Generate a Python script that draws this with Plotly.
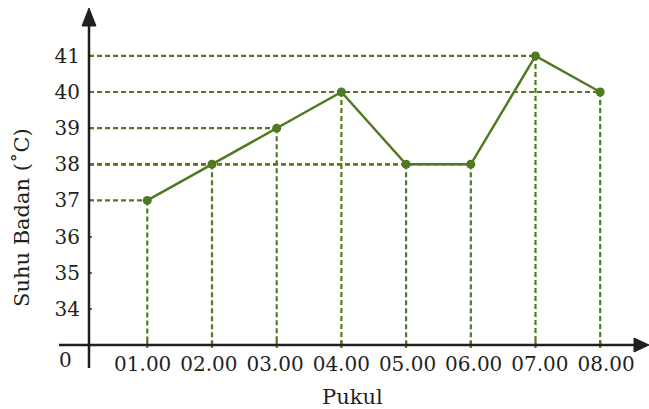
import plotly.graph_objects as go

hours = [1, 2, 3, 4, 5, 6, 7, 8]
hour_labels = ["01.00", "02.00", "03.00", "04.00", "05.00", "06.00", "07.00", "08.00"]
temps = [37, 38, 39, 40, 38, 38, 41, 40]
y_ticks = [34, 35, 36, 37, 38, 39, 40, 41]

GREEN = "#4f7a1f"
DARK = "#231f20"
FONT = "DejaVu Serif"

W, H = 649, 409
L, R, T, B = 89, 0, 0, 64
pw, ph = W - L - R, H - T - B
XPX = 64.7   # px per hour (data scale)
YPX = 36.14  # px per degree
x0 = 1 - (147.3 - L) / XPX
x1 = x0 + pw / XPX
y0 = 33
y1 = y0 + ph / YPX
# label axis: labels in the reference are spread slightly wider than the ticks
LPX = 66.2
lx0 = 1 - (142.7 - L) / LPX
lx1 = lx0 + pw / LPX

fig = go.Figure()

shapes = []
# guide lines
for h, t in zip(hours, temps):
    shapes.append(dict(type="line", xref="x", yref="y", x0=x0, x1=h, y0=t, y1=t,
                       line=dict(color=GREEN, width=2.2, dash="5px,3px"), layer="below"))
    shapes.append(dict(type="line", xref="x", yref="y", x0=h, x1=h, y0=t, y1=y0,
                       line=dict(color=GREEN, width=2.2, dash="5px,3px"), layer="below"))
    shapes.append(dict(type="line", xref="x", yref="paper", x0=h, x1=h, y0=4 / ph, y1=-3 / ph,
                       line=dict(color=GREEN, width=2.2), layer="below"))

# axes lines (paper coords, extending outside plot area)
px = lambda p: (p - L) / pw
py = lambda p: (H - B - p) / ph
shapes.append(dict(type="line", xref="paper", yref="paper", x0=px(59), x1=px(638), y0=0, y1=0,
                   line=dict(color=DARK, width=2.5)))
shapes.append(dict(type="line", xref="paper", yref="paper", x0=0, x1=0, y0=py(368), y1=py(22),
                   line=dict(color=DARK, width=2.5)))
# arrow heads
shapes.append(dict(type="path", xref="paper", yref="paper",
                   path=f"M {px(649)} {py(345)} L {px(634)} {py(338)} L {px(634)} {py(352)} Z",
                   fillcolor=DARK, line=dict(color=DARK, width=1)))
shapes.append(dict(type="path", xref="paper", yref="paper",
                   path=f"M {px(89)} {py(8)} L {px(82)} {py(26)} L {px(96)} {py(26)} Z",
                   fillcolor=DARK, line=dict(color=DARK, width=1)))

fig.add_trace(go.Scatter(x=hours, y=temps, mode="lines+markers",
                         line=dict(color=GREEN, width=2.5),
                         marker=dict(color=GREEN, size=9),
                         cliponaxis=False, hoverinfo="skip"))
# invisible trace to carry the label axis
fig.add_trace(go.Scatter(x=hours, y=temps, xaxis="x2", mode="markers",
                         marker=dict(opacity=0), hoverinfo="skip"))

fig.update_layout(
    width=W, height=H,
    margin=dict(l=L, r=R, t=T, b=B, pad=0),
    paper_bgcolor="white", plot_bgcolor="white",
    showlegend=False,
    shapes=shapes,
    font=dict(family=FONT, color=DARK, size=20),
    xaxis=dict(range=[x0, x1], showticklabels=False,
               showgrid=False, zeroline=False, showline=False, ticks=""),
    xaxis2=dict(range=[lx0, lx1], tickvals=hours, ticktext=hour_labels,
                overlaying="x", side="bottom", anchor="y",
                showgrid=False, zeroline=False, showline=False,
                ticks="", ticklabelstandoff=5, tickfont=dict(size=20, color=DARK)),
    yaxis=dict(range=[y0, y1], tickvals=y_ticks, ticktext=[str(v) for v in y_ticks],
               showgrid=False, zeroline=False, showline=False,
               ticks="inside", ticklen=3, tickwidth=2, tickcolor=GREEN,
               ticklabelstandoff=8, tickfont=dict(size=20, color=DARK)),
    annotations=[
        dict(text="Pukul", xref="paper", yref="paper", x=px(352), y=py(397),
             showarrow=False, font=dict(size=21), xanchor="center", yanchor="middle"),
        dict(text="Suhu Badan (˚C)", xref="paper", yref="paper", x=px(22), y=py(218),
             showarrow=False, textangle=-90, font=dict(size=21), xanchor="center", yanchor="middle"),
        dict(text="0", xref="paper", yref="paper", x=px(65), y=py(360),
             showarrow=False, font=dict(size=20), xanchor="center", yanchor="middle"),
    ],
)

fig.write_html("out.html", config={"displayModeBar": False},
               post_script="document.body.style.margin='0';document.body.style.overflow='hidden';")
